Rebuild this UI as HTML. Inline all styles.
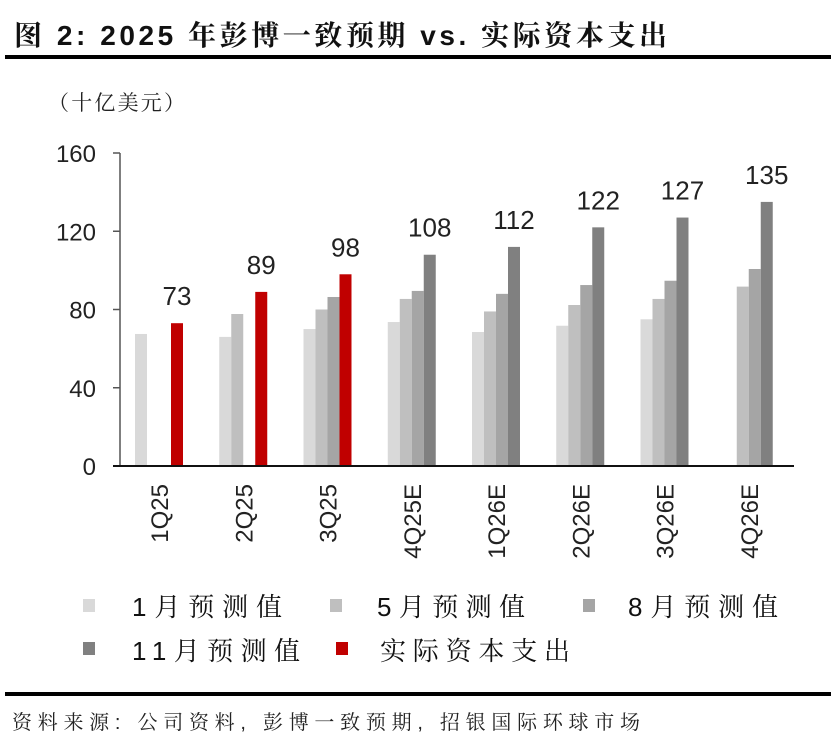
<!DOCTYPE html>
<html><head><meta charset="utf-8"><style>
html,body{margin:0;padding:0;background:#fff;}
svg{display:block;}
text{font-family:"Liberation Sans","Noto Serif CJK SC",sans-serif;}
</style></head><body>
<svg id="chart" width="838" height="746" viewBox="0 0 838 746" xmlns="http://www.w3.org/2000/svg">
<text x="14" y="45" font-size="28" font-weight="bold" fill="#111" textLength="653" lengthAdjust="spacing">图 2: 2025 年彭博一致预期 vs. 实际资本支出</text>
<rect x="5" y="55" width="826" height="4" fill="#000"/>
<text x="48" y="110" font-size="21" fill="#222" textLength="137" lengthAdjust="spacing">（十亿美元）</text>
<g id="plot"></g>
<g>
<rect x="83" y="599" width="12" height="13" fill="#d9d9d9"/>
<text x="132" y="616" font-size="26" fill="#111" textLength="150" lengthAdjust="spacing">1月预测值</text>
<rect x="330" y="599" width="12" height="13" fill="#bfbfbf"/>
<text x="377" y="616" font-size="26" fill="#111" textLength="148" lengthAdjust="spacing">5月预测值</text>
<rect x="583" y="599" width="12" height="13" fill="#a5a5a5"/>
<text x="628" y="616" font-size="26" fill="#111" textLength="150" lengthAdjust="spacing">8月预测值</text>
<rect x="83" y="642" width="12" height="13" fill="#808080"/>
<text x="132" y="660" font-size="26" fill="#111" textLength="168" lengthAdjust="spacing">11月预测值</text>
<rect x="336" y="642" width="12" height="13" fill="#c00000"/>
<text x="380" y="660" font-size="26" fill="#111" textLength="190" lengthAdjust="spacing">实际资本支出</text>
</g>
<rect x="5" y="692" width="826" height="4" fill="#000"/>
<text x="12" y="729" font-size="20" fill="#222" textLength="628" lengthAdjust="spacing">资料来源: 公司资料, 彭博一致预期, 招银国际环球市场</text>
</svg>
<script>
const categories = ["1Q25","2Q25","3Q25","4Q25E","1Q26E","2Q26E","3Q26E","4Q26E"];
const janValues = [67.5,66,70,73.6,68.5,71.7,75,null];
const mayValues = [null,77.7,80,85.4,79,82.3,85.4,91.7];
const augValues = [null,null,86.4,89.5,88,92.5,94.7,100.7];
const novValues = [null,null,null,108,112,122,127,135];
const actualValues = [73,89,98,null,null,null,null,null];
const topLabels = ["73","89","98","108","112","122","127","135"];
const yTicks = [0,40,80,120,160];

const NS = "http://www.w3.org/2000/svg";
const plot = document.getElementById('plot');
const x0 = 120, x1 = 794, yBase = 466, yTop = 153, yMax = 160;
const catW = (x1 - x0) / categories.length;
const barW = 12;
function yScale(v){ return yBase - (v / yMax) * (yBase - yTop); }
function slotX(ci, s){ return x0 + ci * catW + 15 + s * barW; }
function mk(tag, attrs){ const e = document.createElementNS(NS, tag); for (const k in attrs) e.setAttribute(k, attrs[k]); plot.appendChild(e); return e; }

let ax = mk('line', {x1:x0, y1:yTop, x2:x0, y2:yBase, stroke:'#555', 'stroke-width':1.5});


yTicks.forEach(t => {
  const y = yScale(t);
  const tk = mk('line', {x1:x0-7, y1:y, x2:x0, y2:y, stroke:'#555', 'stroke-width':1.5});
  
  
  const lb = mk('text', {x:96, y:y+9, 'font-size':24, 'text-anchor':'end', fill:'#222'});
  lb.textContent = t;
  
  
});

const series = [
  {vals: janValues, slot:0, color:'#d9d9d9', name:'bar-jan'},
  {vals: mayValues, slot:1, color:'#bfbfbf', name:'bar-may'},
  {vals: augValues, slot:2, color:'#a5a5a5', name:'bar-aug'},
  {vals: novValues, slot:3, color:'#808080', name:'bar-nov'},
  {vals: actualValues, slot:3, color:'#c00000', name:'bar-actual'}
];
series.forEach(s => {
  s.vals.forEach((v, ci) => {
    if (v == null) return;
    const y = yScale(v);
    const r = mk('rect', {x:slotX(ci, s.slot), y:y, width:barW, height:yBase-y, fill:s.color});
    
    
  });
});

categories.forEach((c, ci) => {
  const top = novValues[ci] != null ? novValues[ci] : actualValues[ci];
  const cx = slotX(ci, 3) + barW / 2;
  const lb = mk('text', {x:cx, y:yScale(top)-18, 'font-size':26, 'text-anchor':'middle', fill:'#222'});
  lb.textContent = topLabels[ci];
  
  
  const gx = slotX(ci, 2);
  const xl = mk('text', {x:0, y:0, 'font-size':24, 'text-anchor':'end', fill:'#222', transform:'translate(' + (gx + 9) + ',484) rotate(-90)'});
  xl.textContent = c;
  
  
});

let bx = mk('line', {x1:113, y1:yBase, x2:x1, y2:yBase, stroke:'#111', 'stroke-width':2});


</script>
</body></html>
